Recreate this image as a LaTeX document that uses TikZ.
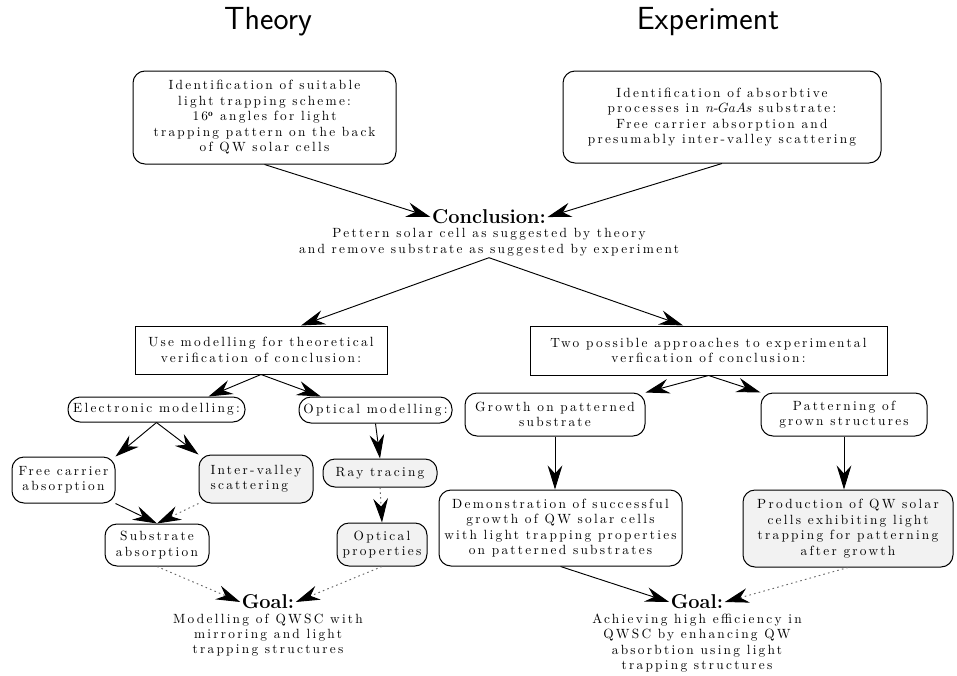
\documentclass[tikz,border=0pt]{standalone}
\usepackage{fontspec}
\newfontfamily\boxfont{lmroman10-regular.otf}[LetterSpace=17]
\usetikzlibrary{positioning, arrows.meta}

\begin{document}
\begin{tikzpicture}[x=0.75pt, y=-0.75pt,
    rbox/.style={rectangle, rounded corners=9pt, draw, line width=0.75pt, align=center,
                 font=\boxfont\fontsize{10}{11.6}\selectfont, inner sep=2pt},
    sbox/.style={rbox, rounded corners=0pt},
    shaded/.style={fill=gray!10},
    txt/.style={align=center, font=\boxfont\fontsize{10}{11.6}\selectfont, inner sep=1pt},
    head/.style={font=\fontsize{15}{17}\selectfont\bfseries, inner sep=1pt},
    title/.style={font=\sffamily\fontsize{24}{28}\selectfont},
    arr/.style={-{Stealth[length=18pt, width=11pt, inset=6pt]}, line width=0.7pt},
    darr/.style={-{Stealth[length=18pt, width=11pt, inset=6pt, black]}, line width=0.7pt,
                 black!60, dash pattern=on 1.2pt off 2.4pt},
  ]
    \useasboundingbox (0,0) rectangle (957,675);

    \node[title] (theory) at (268,22) {Theory};
    \node[title] (exper) at (708,22) {Experiment};

    \node[rbox, minimum width=263*0.75pt, minimum height=93*0.75pt] (idT) at (264.5,117.5)
      {Identification of suitable\\light trapping scheme:\\16$^{\mathbf{o}}$ angles for light\\trapping pattern on the back\\of QW solar cells};
    \node[rbox, minimum width=318*0.75pt, minimum height=92*0.75pt] (idE) at (722,117)
      {Identification of absorbtive\\processes in $n$-$GaAs$ substrate:\\Free carrier absorption and\\presumably inter-valley scattering};

    \node[head] (conclT) at (489,217) {Conclusion:};
    \node[txt, below=1pt of conclT] (conclB)
      {Pettern solar cell as suggested by theory\\and remove substrate as suggested by experiment};

    \node[sbox, minimum width=252*0.75pt, minimum height=48*0.75pt] (useT) at (261,350)
      {Use modelling for theoretical\\verification of conclusion:};
    \node[sbox, minimum width=357*0.75pt, minimum height=49*0.75pt] (twoE) at (708.5,350.5)
      {Two possible approaches to experimental\\verfication of conclusion:};

    \node[rbox, minimum width=177*0.75pt, minimum height=25*0.75pt] (elec) at (156.5,409.5) {Electronic modelling:};
    \node[rbox, minimum width=153*0.75pt, minimum height=26*0.75pt] (optm) at (375.5,410) {Optical modelling:};
    \node[rbox, minimum width=180*0.75pt, minimum height=43*0.75pt] (grow) at (555,414.5) {Growth on patterned\\substrate};
    \node[rbox, minimum width=166*0.75pt, minimum height=43*0.75pt] (patt) at (844,414.5) {Patterning of\\grown structures};

    \node[rbox, minimum width=103*0.75pt, minimum height=46*0.75pt] (free) at (63.5,480) {Free carrier\\absorption};
    \node[rbox, shaded, align=left, minimum width=114*0.75pt, minimum height=48*0.75pt] (inter) at (256,479) {Inter-valley\\scattering};
    \node[rbox, shaded, minimum width=114*0.75pt, minimum height=28*0.75pt] (ray) at (380,473) {Ray tracing};
    \node[rbox, minimum width=104*0.75pt, minimum height=42*0.75pt] (subs) at (157,545) {Substrate\\absorption};
    \node[rbox, shaded, minimum width=90*0.75pt, minimum height=43*0.75pt] (optp) at (382,544.5) {Optical\\properties};

    \node[rbox, minimum width=243*0.75pt, minimum height=76*0.75pt] (demo) at (560.5,528)
      {Demonstration of successful\\growth of QW solar cells\\with light trapping properties\\on patterned substrates};
    \node[rbox, shaded, minimum width=210*0.75pt, minimum height=77*0.75pt] (prod) at (848,528.5)
      {Production of QW solar\\cells exhibiting light\\trapping for patterning\\after growth};

    \node[head] (goalT) at (268,602) {Goal:};
    \node[txt, below=1pt of goalT] (goalTB) {Modelling of QWSC with\\mirroring and light\\trapping structures};
    \node[head] (goalE) at (697,602) {Goal:};
    \node[txt, below=1pt of goalE] (goalEB) {Achieving high efficiency in\\QWSC by enhancing QW\\absorbtion using light\\trapping structures};

    \draw[arr] (idT.south) -- (conclT.west);
    \draw[arr] (idE.south) -- (conclT.east);
    \draw[arr] (conclB.south) -- ([xshift=30pt]useT.north);
    \draw[arr] (conclB.south) -- ([xshift=-19pt]twoE.north);
    \draw[arr] (useT.south) -- ([xshift=39pt]elec.north);
    \draw[arr] (useT.south) -- ([xshift=-41pt]optm.north);
    \draw[arr] (twoE.south) -- (grow.north east);
    \draw[arr] (twoE.south) -- (patt.north west);
    \draw[arr] (elec.south) -- (free.north east);
    \draw[arr] (elec.south) -- (inter.north west);
    \draw[arr] (free.south east) -- (subs.north);
    \draw[darr] (inter.south west) -- (subs.north);
    \draw[arr] (optm.south) -- (ray.north);
    \draw[darr] (ray.south) -- (optp.north);
    \draw[darr] (subs.south) -- (goalT.west);
    \draw[darr] (optp.south) -- (goalT.east);
    \draw[arr] (grow.south) -- (demo.north -| grow.south);
    \draw[arr] (patt.south) -- (prod.north -| patt.south);
    \draw[arr] (demo.south) -- (goalE.west);
    \draw[darr] (prod.south) -- (goalE.east);
  \end{tikzpicture}
\end{document}
